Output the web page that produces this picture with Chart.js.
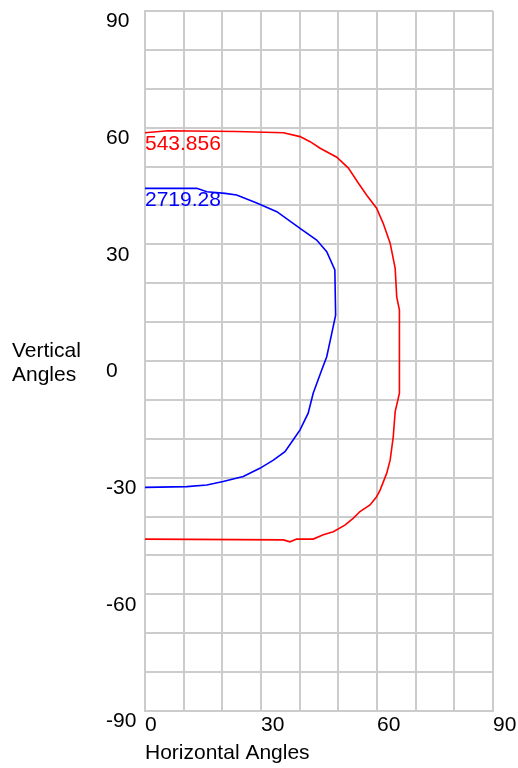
<!DOCTYPE html>
<html>
<head>
<meta charset="utf-8">
<script src="https://cdn.jsdelivr.net/npm/chart.js@4/dist/chart.umd.min.js"></script>
<style>
  html, body { margin: 0; padding: 0; background: #fff; }
  #chart { display: block; }
</style>
</head>
<body>
<canvas id="chart" width="518" height="768"></canvas>
<script>
// series names, drawn next to the start of each curve
const seriesLabels = ['543.856', '2719.28'];
const seriesColors = ['#ff0000', '#0000ff'];

// red contour (horizontal angle, vertical angle)
const redX = [0, 6.0, 23.7, 35.8, 40.1, 42.7, 45.3, 49.6, 52.6, 55.2, 57.3, 59.9, 61.6, 63.4, 64.7, 65.1, 65.8, 65.9, 65.7, 64.7, 64.2, 63.4, 62.5, 60.8, 59.9, 58.2, 55.6, 53.9, 51.7, 48.7, 46.1, 43.5, 39.2, 37.5, 35.8, 0];
const redY = [58.7, 59.2, 59.0, 58.7, 57.7, 56.4, 54.7, 52.4, 49.6, 45.7, 42.7, 39.3, 35.4, 30.3, 23.8, 16.5, 13.1, -2.3, -8.3, -13.0, -19.5, -25.5, -28.9, -33.2, -34.9, -37.0, -38.7, -40.4, -42.2, -43.9, -44.7, -45.8, -45.8, -46.5, -46.0, -45.8];

// blue contour
const blueX = [0, 13.4, 16.0, 20.7, 23.7, 28.9, 34.1, 40.1, 44.4, 47.0, 49.1, 49.3, 48.3, 47.0, 45.7, 43.5, 42.2, 40.1, 38.3, 36.2, 33.2, 29.7, 25.4, 20.2, 16.0, 10.8, 0];
const blueY = [44.4, 44.4, 43.5, 43.1, 42.7, 40.6, 38.4, 34.1, 31.1, 28.1, 23.4, 11.8, 7.1, 1.1, -2.3, -8.3, -13.4, -17.7, -20.3, -23.3, -25.5, -27.6, -29.7, -31.0, -31.9, -32.3, -32.5];

const xTickLabels = [0, 30, 60, 90];
const yTickLabels = [90, 60, 30, 0, -30, -60, -90];

const FONT = 'Liberation Sans, Arial, sans-serif';
const gridColor = '#cccccc';

function toPoints(xs, ys) {
    return xs.map((x, i) => ({x: x, y: ys[i]}));
}

const curveLabels = {
    id: 'curveLabels',
    afterDatasetsDraw(chart) {
        const ctx = chart.ctx;
        const xs = chart.scales.x;
        const ys = chart.scales.y;
        ctx.save();
        ctx.font = '21px ' + FONT;
        ctx.textAlign = 'left';
        ctx.textBaseline = 'top';
        chart.data.datasets.forEach((ds, i) => {
            const p = ds.data[0];
            ctx.fillStyle = seriesColors[i];
            ctx.fillText(seriesLabels[i], xs.getPixelForValue(p.x), ys.getPixelForValue(p.y) + 1);
        });
        // vertical axis title, written horizontally on two lines
        ctx.fillStyle = '#000';
        ctx.fillText('Vertical', 12, 341);
        ctx.fillText('Angles', 12, 365);
        ctx.restore();
    }
};

const ctx = document.getElementById('chart');
new Chart(ctx, {
    type: 'scatter',
    data: {
        datasets: [
            {label: seriesLabels[0], data: toPoints(redX, redY), borderColor: seriesColors[0]},
            {label: seriesLabels[1], data: toPoints(blueX, blueY), borderColor: seriesColors[1]}
        ]
    },
    options: {
        responsive: false,
        animation: false,
        showLine: true,
        elements: {
            point: {radius: 0},
            line: {borderWidth: 1.6, tension: 0, fill: false}
        },
        layout: {padding: {left: 106, top: 11, right: 25, bottom: 0}},
        plugins: {legend: {display: false}, tooltip: {enabled: false}},
        scales: {
            x: {
                type: 'linear',
                min: 0, max: 90,
                grid: {color: gridColor, lineWidth: 2, drawTicks: false},
                border: {color: gridColor, width: 2},
                ticks: {
                    stepSize: 10,
                    align: 'start',
                    padding: 2,
                    color: '#000',
                    font: {family: FONT, size: 21},
                    callback: v => xTickLabels.includes(v) ? String(v) : ''
                },
                title: {
                    display: true,
                    text: 'Horizontal Angles',
                    align: 'start',
                    color: '#000',
                    font: {family: FONT, size: 21},
                    padding: {top: 0, bottom: 2}
                },
                afterFit: s => { s.height = 57; s.paddingLeft = 0; s.paddingRight = 0; }
            },
            y: {
                type: 'linear',
                min: -90, max: 90,
                grid: {color: gridColor, lineWidth: 2, drawTicks: false},
                border: {color: gridColor, width: 2},
                ticks: {
                    stepSize: 10,
                    align: 'start',
                    crossAlign: 'far',
                    padding: 4,
                    color: '#000',
                    font: {family: FONT, size: 21},
                    callback: v => yTickLabels.includes(v) ? String(v) : ''
                },
                afterFit: s => { s.width = 39; s.paddingTop = 0; s.paddingBottom = 0; }
            }
        }
    },
    plugins: [curveLabels]
});
</script>
</body>
</html>
